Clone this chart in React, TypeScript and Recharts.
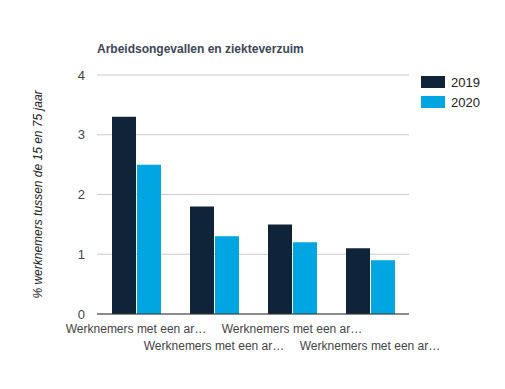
import React from "react";
import { BarChart, Bar, XAxis, YAxis, CartesianGrid } from "recharts";

// categories (full names are cut off in the chart, the ticks show the shortened form)
const categories = [
  "Werknemers met een arbeidsongeval",
  "Werknemers met een arbeidsongeval met verzuim",
  "Werknemers met een arbeidsongeval met 4 of meer dagen verzuim",
  "Werknemers met een arbeidsongeval met letsel",
];
const tickLabels = [
  "Werknemers met een ar…",
  "Werknemers met een ar…",
  "Werknemers met een ar…",
  "Werknemers met een ar…",
];
const values2019 = [3.3, 1.8, 1.5, 1.1];
const values2020 = [2.5, 1.3, 1.2, 0.9];
const yTicks = [0, 1, 2, 3, 4];

const FONT = "Arial, 'Liberation Sans', sans-serif";
const DARK = "#0f2439";
const LIGHT = "#00a6e1";

const data = categories.map((name, i) => ({
  name,
  y2019: values2019[i],
  y2020: values2020[i],
}));

function CategoryTick(props: any) {
  const { x, y, index } = props;
  const dy = index % 2 === 0 ? 17 : 34;
  return (
    <text x={x} y={y + dy} textAnchor="middle" fontSize={12} fontFamily={FONT} fill="#444">
      {tickLabels[index]}
    </text>
  );
}

export default function App() {
  return (
    <div style={{ position: "absolute", left: 0, top: 0, width: 505, height: 389, background: "#fff" }}>
      <div
        style={{
          position: "absolute",
          left: 97,
          top: 42,
          fontFamily: FONT,
          fontSize: 12,
          fontWeight: "bold",
          color: "#3c4658",
          whiteSpace: "nowrap",
        }}
      >
        Arbeidsongevallen en ziekteverzuim
      </div>

      <div style={{ position: "absolute", left: 421, top: 72, fontFamily: FONT, fontSize: 13, color: "#222" }}>
        {[
          { label: "2019", color: DARK },
          { label: "2020", color: LIGHT },
        ].map((item) => (
          <div key={item.label} style={{ display: "flex", alignItems: "center", height: 20 }}>
            <span style={{ display: "inline-block", width: 24, height: 12, background: item.color, marginRight: 6 }} />
            <span>{item.label}</span>
          </div>
        ))}
      </div>

      <BarChart
        width={505}
        height={389}
        data={data}
        margin={{ top: 75, right: 96, bottom: 0, left: 0 }}
        barSize={24}
        barGap={1}
      >
        <CartesianGrid vertical={false} stroke="#ccc" />
        <XAxis
          dataKey="name"
          interval={0}
          tickLine={false}
          tickSize={0}
          axisLine={{ stroke: "#333" }}
          tick={<CategoryTick />}
          height={75}
        />
        <YAxis
          width={97}
          domain={[0, 4]}
          ticks={yTicks}
          axisLine={false}
          tickLine={false}
          tickSize={0}
          tickMargin={12}
          tick={{ fontSize: 13, fontFamily: FONT, fill: "#444" }}
          label={{
            value: "% werknemers tussen de 15 en 75 jaar",
            angle: -90,
            position: "insideLeft",
            offset: 0,
            dx: 38,
            fontSize: 12,
            fontStyle: "italic",
            fontFamily: FONT,
            fill: "#222",
            style: { textAnchor: "middle" },
          }}
        />
        <Bar dataKey="y2019" fill={DARK} isAnimationActive={false} />
        <Bar dataKey="y2020" fill={LIGHT} isAnimationActive={false} />
      </BarChart>
    </div>
  );
}
